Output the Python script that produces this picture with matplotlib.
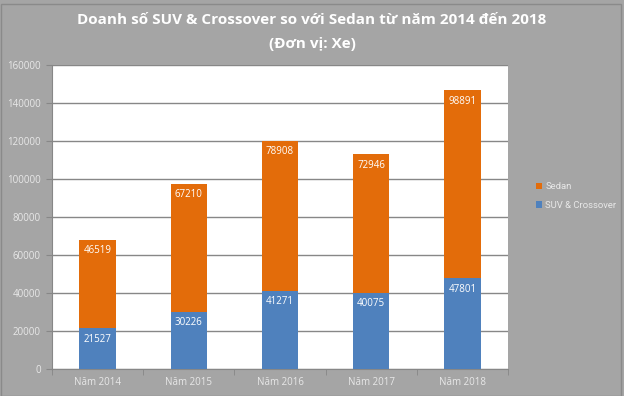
import matplotlib
matplotlib.use("Agg")
import matplotlib.pyplot as plt
from matplotlib.patches import Rectangle
import numpy as np

categories = ["Năm 2014", "Năm 2015", "Năm 2016", "Năm 2017", "Năm 2018"]
suv = [21527, 30226, 41271, 40075, 47801]
sedan = [46519, 67210, 78908, 72946, 98891]
yticks = [0, 20000, 40000, 60000, 80000, 100000, 120000, 140000, 160000]

BG = "#a5a5a5"
ORANGE = "#e36c0a"
BLUE = "#4f81bd"
GRID = "#878787"
TXT = "#e8e8e8"

plt.rcParams['font.family'] = ['Open Sans', 'DejaVu Sans']

W, H = 624, 396
fig = plt.figure(figsize=(W / 100, H / 100), dpi=100, facecolor=BG)
left, right, top, bottom = 52, 508, 65, 369
ax = fig.add_axes([left / W, 1 - bottom / H, (right - left) / W, (bottom - top) / H])
ax.set_facecolor("white")

x = np.arange(len(categories))
bw = 0.4
b1 = ax.bar(x, suv, bw, color=BLUE, label="SUV & Crossover", zorder=3)
b2 = ax.bar(x, sedan, bw, bottom=suv, color=ORANGE, label="Sedan", zorder=3)

for i in range(len(categories)):
    ax.annotate(str(suv[i]), (x[i], suv[i]), xytext=(0, -11), textcoords="offset pixels",
                ha="center", va="center", color="white", fontsize=7, zorder=4)
    ax.annotate(str(sedan[i]), (x[i], suv[i] + sedan[i]), xytext=(0, -11), textcoords="offset pixels",
                ha="center", va="center", color="white", fontsize=7, zorder=4)

ax.set_xlim(-0.5, len(categories) - 0.5)
ax.set_ylim(0, 160000)
ax.set_yticks(yticks)
ax.set_yticklabels([str(v) for v in yticks])
ax.yaxis.grid(True, color=GRID, linewidth=1, zorder=0)
ax.set_axisbelow(True)

ax.set_xticks(x)
ax.set_xticklabels(categories)
ax.set_xticks(np.arange(-0.5, len(categories) + 0.5, 1), minor=True)
ax.tick_params(axis="x", which="major", length=0, colors=TXT, labelsize=7, pad=6)
ax.tick_params(axis="x", which="minor", length=4, color=GRID, direction="out")
ax.tick_params(axis="y", length=4, color=GRID, labelcolor=TXT, labelsize=7, pad=4)
for lbl in ax.get_xticklabels() + ax.get_yticklabels():
    lbl.set_color(TXT)

for s in ["top", "right"]:
    ax.spines[s].set_visible(False)
ax.spines["left"].set_color(GRID)
ax.spines["bottom"].set_color(GRID)

handles = [b2, b1]
leg = fig.legend(handles, ["Sedan", "SUV & Crossover"], loc="center left",
                 bbox_to_anchor=(527 / W, 1 - 196 / H), frameon=False,
                 prop={"family": ["Roboto", "DejaVu Sans"], "size": 6.8},
                 handlelength=0.7, handleheight=0.7, handletextpad=0.35,
                 labelspacing=1.0)
for t in leg.get_texts():
    t.set_color(TXT)

fig.text(0.5, 1 - 20 / H, "Doanh số SUV & Crossover so với Sedan từ năm 2014 đến 2018",
         ha="center", va="center", color="white", fontsize=11, fontweight="bold")
fig.text(0.5, 1 - 44 / H, "(Đơn vị: Xe)",
         ha="center", va="center", color="white", fontsize=11, fontweight="bold")

fig.patches.append(Rectangle((0.5 / W, 0.5 / H), (W - 4) / W, (H - 4) / H,
                             transform=fig.transFigure, fill=False,
                             edgecolor="#8a8a8a", linewidth=1))

fig.savefig("out.png", dpi=100, facecolor=BG)
